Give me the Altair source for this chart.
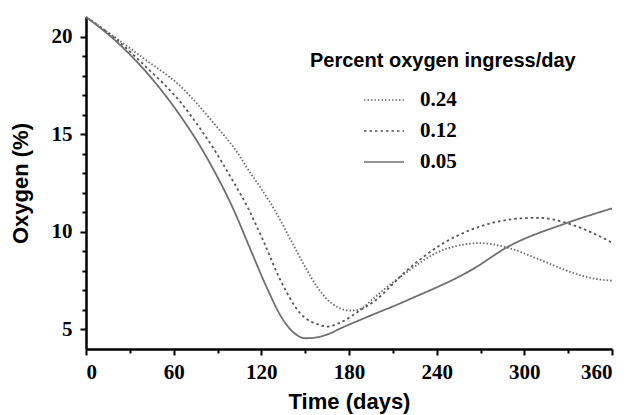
import altair as alt
import pandas as pd

series_names = ["0.24", "0.12", "0.05"]

days_024 = [0, 20, 41, 64, 87, 105, 110, 120, 130, 140, 150, 158, 165, 172, 180, 186, 197, 204, 220, 242, 255, 270, 288, 311, 334, 348, 360]
oxy_024 = [21.0, 19.95, 18.8, 17.5, 15.6, 13.9, 13.3, 12.2, 11.0, 9.6, 8.2, 7.2, 6.55, 6.15, 5.97, 6.0, 6.6, 7.05, 7.96, 9.0, 9.3, 9.42, 9.2, 8.56, 7.88, 7.6, 7.5]

days_012 = [0, 20, 41, 64, 78, 87, 99, 111, 121, 133, 146.6, 160, 165, 174, 188, 197, 220, 242, 265, 300, 310, 329, 345, 360]
oxy_012 = [21.0, 19.9, 18.45, 16.7, 15.3, 14.3, 12.8, 11.2, 9.6, 7.54, 5.83, 5.23, 5.15, 5.35, 6.0, 6.43, 8.05, 9.3, 10.15, 10.7, 10.72, 10.45, 10.0, 9.45]

days_005 = [0, 20, 41, 64, 78, 90, 100, 112, 124, 134, 142, 150, 158, 167, 174, 188, 220, 265, 288, 329, 360]
oxy_005 = [21.0, 19.8, 18.2, 16.0, 14.4, 12.8, 11.3, 9.2, 7.1, 5.6, 4.85, 4.55, 4.6, 4.8, 5.05, 5.5, 6.5, 8.1, 9.2, 10.45, 11.2]

x_major = [0, 60, 120, 180, 240, 300, 360]
x_minor = [30, 90, 150, 210, 270, 330]
y_major = [5, 10, 15, 20]
y_minor = [6, 7, 8, 9, 11, 12, 13, 14, 16, 17, 18, 19]

rows = []
for name, ds, vs in [("0.24", days_024, oxy_024), ("0.12", days_012, oxy_012), ("0.05", days_005, oxy_005)]:
    for d, v in zip(ds, vs):
        rows.append({"day": d, "oxygen": v, "series": name})
df = pd.DataFrame(rows)

legend = alt.Legend(
    orient="none", legendX=224, legendY=34,
    title="Percent oxygen ingress/day",
    titleFont="Liberation Sans", titleFontWeight="bold", titleFontSize=20, titleColor="black",
    titlePadding=8, titleLimit=500,
    labelFont="Liberation Serif", labelFontWeight="bold", labelFontSize=21, labelColor="black",
    symbolType="stroke", symbolSize=1600, symbolStrokeWidth=1.6, symbolOffset=53,
    labelOffset=15, rowPadding=-4,
)

chart = alt.Chart(df).mark_line(interpolate="monotone", strokeWidth=1.8).encode(
    x=alt.X("day:Q", scale=alt.Scale(domain=[0, 360], nice=False),
            axis=alt.Axis(values=x_major + x_minor, title="Time (days)",
                          labelExpr="datum.value % 60 === 0 ? datum.label : ''",
                          tickSize={"condition": {"test": "datum.value % 60 === 0", "value": 6}, "value": 4},
                          labelPadding=6, titlePadding=9)),
    y=alt.Y("oxygen:Q", scale=alt.Scale(domain=[4, 21], nice=False, zero=False),
            axis=alt.Axis(values=y_major + y_minor, title="Oxygen (%)",
                          labelExpr="datum.value % 5 === 0 ? datum.label : ''",
                          tickSize={"condition": {"test": "datum.value % 5 === 0", "value": 6}, "value": 4},
                          labelPadding=8, titlePadding=19)),
    color=alt.Color("series:N", sort=series_names,
                    scale=alt.Scale(domain=series_names, range=["#6a6a6a", "#555555", "#707070"]),
                    legend=legend),
    strokeDash=alt.StrokeDash("series:N", sort=series_names,
                              scale=alt.Scale(domain=series_names, range=[[1.5, 2], [2.5, 3], [1, 0]]),
                              legend=legend),
).properties(
    width=526, height=332,
    background="white",
    autosize=alt.AutoSizeParams(type="none"),
    padding={"left": 86, "top": 17, "right": 22, "bottom": 66},
).configure_view(stroke=None).configure_axis(
    domainColor="black", domainWidth=2.5, tickColor="black", tickWidth=2,
    grid=False,
    labelFont="Liberation Serif", labelFontWeight="bold", labelFontSize=21, labelColor="black",
    titleFont="Liberation Sans", titleFontWeight="bold", titleFontSize=22, titleColor="black",
)

chart.save("out.html", embed_options={"renderer": "svg", "actions": False})
